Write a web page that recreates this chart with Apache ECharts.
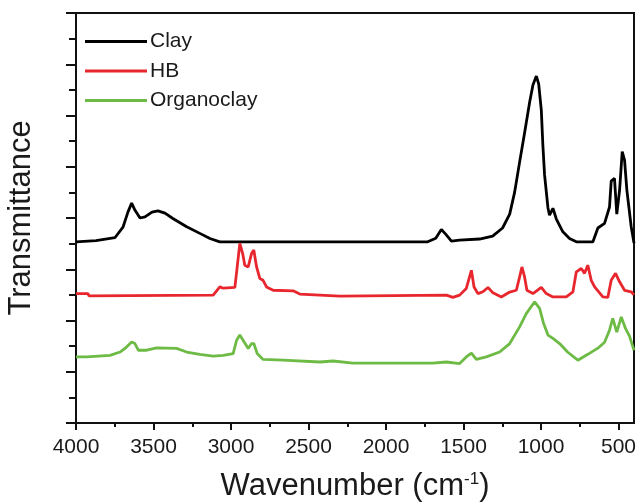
<!DOCTYPE html>
<html>
<head>
<meta charset="utf-8">
<script src="https://cdn.jsdelivr.net/npm/echarts@6/dist/echarts.min.js"></script>
<style>html,body{margin:0;padding:0;background:#fff}#c{width:637px;height:503px}</style>
</head>
<body>
<div id="c"></div>
<script>
// Wavenumber (cm^-1) and transmittance (arbitrary, offset) values
var clayWN = [4000,3871,3749,3697,3665,3641,3620,3587,3555,3510,3471,3426,3375,3286,3201,3136,3072,1731,1679,1643,1615,1578,1525,1396,1312,1248,1202,1170,1138,1106,1073,1052,1030,1015,998,988,977,955,945,923,901,859,816,772,665,633,590,558,547,526,511,493,476,461,446,418,400];
var clayT  = [7.07,7.12,7.23,7.64,8.23,8.58,8.31,8.00,8.04,8.23,8.28,8.19,7.98,7.66,7.40,7.20,7.07,7.07,7.21,7.55,7.37,7.10,7.14,7.18,7.29,7.61,8.15,9.01,10.18,11.32,12.53,13.19,13.54,13.23,12.21,10.85,9.68,8.39,8.11,8.38,7.96,7.46,7.20,7.07,7.07,7.61,7.79,8.43,9.44,9.55,8.15,9.09,10.59,10.26,9.09,7.66,7.02];

var hbWN = [4000,3923,3916,3115,3072,3050,2975,2960,2943,2925,2911,2889,2867,2853,2835,2814,2793,2771,2728,2599,2556,2298,1610,1568,1525,1482,1449,1432,1407,1375,1342,1310,1256,1202,1159,1138,1123,1106,1091,1052,998,966,923,837,794,772,740,719,698,676,654,601,569,547,519,493,461,418,400];
var hbT  = [5.05,5.05,4.96,4.99,5.31,5.26,5.29,6.09,7.01,6.62,6.16,6.09,6.62,6.75,6.09,5.64,5.57,5.31,5.18,5.16,5.03,4.95,4.99,4.90,4.99,5.25,5.96,5.31,5.05,5.12,5.29,5.08,4.92,5.11,5.18,5.70,6.09,5.70,5.18,5.05,5.29,5.05,4.92,4.92,5.12,5.90,6.03,5.84,6.16,5.57,5.31,4.92,4.90,5.57,5.84,5.51,5.18,5.12,5.00];

var orgWN = [4000,3931,3781,3716,3684,3641,3620,3598,3544,3480,3351,3286,3201,3115,3050,2986,2964,2943,2922,2889,2867,2853,2831,2793,2664,2427,2341,2214,1699,1610,1525,1482,1449,1417,1353,1267,1202,1138,1095,1041,1009,983,955,923,880,827,762,698,633,590,558,537,511,482,455,429,400];
var orgT  = [2.58,2.58,2.64,2.77,2.91,3.16,3.10,2.84,2.84,2.93,2.91,2.77,2.68,2.61,2.64,2.71,3.23,3.43,3.23,2.91,3.10,3.10,2.71,2.48,2.45,2.38,2.42,2.34,2.34,2.38,2.32,2.58,2.73,2.48,2.58,2.77,3.10,3.75,4.27,4.73,4.47,3.88,3.43,3.30,3.10,2.76,2.45,2.68,2.92,3.15,3.62,4.08,3.55,4.14,3.69,3.39,2.84];

var seriesNames = ['Clay', 'HB', 'Organoclay'];
var xTickLabels = [4000, 3500, 3000, 2500, 2000, 1500, 1000, 500];
var xMinorTicks = [3750, 3250, 2750, 2250, 1750, 1250, 750];

function pairs(xs, ys) { return xs.map(function (x, i) { return [x, ys[i]]; }); }

var chart = echarts.init(document.getElementById('c'));
var txt = '#1a1a1a';
chart.setOption({
  animation: false,
  backgroundColor: '#fff',
  grid: { left: 76, right: 3, top: 13, bottom: 80, containLabel: false, outerBoundsMode: 'none',
          show: true, borderColor: '#111', borderWidth: 2, backgroundColor: 'transparent' },
  legend: {
    orient: 'vertical', left: 85, top: 31, padding: 0, itemWidth: 62, itemHeight: 3, itemGap: 8.5, icon: 'rect',
    data: seriesNames,
    textStyle: { fontFamily: 'Liberation Sans', fontSize: 21, color: txt, padding: [0, 0, 0, -2] }
  },
  xAxis: [{
    type: 'value', inverse: true, min: 400, max: 4000,
    axisLine: { show: true, onZero: false, lineStyle: { color: '#111', width: 2 } },
    axisTick: { show: true, inside: false, length: 7, lineStyle: { color: '#111', width: 2 }, customValues: xTickLabels },
    axisLabel: { show: true, margin: 14, fontFamily: 'Liberation Sans', fontSize: 21, color: txt, customValues: xTickLabels,
                 formatter: function (v) { return String(v); } },
    splitLine: { show: false },
    name: 'Wavenumber (cm{sup|-1})',
    nameLocation: 'middle', nameGap: 48,
    nameTextStyle: {
      fontFamily: 'Liberation Sans', fontSize: 31, color: txt,
      rich: { sup: { fontFamily: 'Liberation Sans', fontSize: 17, color: txt, verticalAlign: 'top', padding: [0, 0, 14, 0] } }
    }
  }, {
    type: 'value', inverse: true, min: 400, max: 4000, position: 'bottom',
    axisLine: { show: false },
    axisTick: { show: true, length: 4, lineStyle: { color: '#111', width: 2 }, customValues: xMinorTicks },
    axisLabel: { show: false },
    splitLine: { show: false }
  }],
  yAxis: {
    type: 'value', min: 0, max: 16, interval: 2,
    axisLine: { show: true, lineStyle: { color: '#111', width: 2 } },
    axisTick: { show: true, length: 10, lineStyle: { color: '#111', width: 2 } },
    minorTick: { show: true, splitNumber: 2, length: 7, lineStyle: { color: '#111', width: 2 } },
    axisLabel: { show: false },
    splitLine: { show: false },
    name: 'Transmittance', nameLocation: 'middle', nameGap: 39,
    nameTextStyle: { fontFamily: 'Liberation Sans', fontSize: 31, color: txt }
  },
  series: [
    { name: seriesNames[0], type: 'line', symbol: 'none', data: pairs(clayWN, clayT), lineStyle: { color: '#000', width: 2.8 }, itemStyle: { color: '#000' } },
    { name: seriesNames[1], type: 'line', symbol: 'none', data: pairs(hbWN, hbT), lineStyle: { color: '#e8262d', width: 2.8 }, itemStyle: { color: '#e8262d' } },
    { name: seriesNames[2], type: 'line', symbol: 'none', data: pairs(orgWN, orgT), lineStyle: { color: '#6dbb45', width: 2.8 }, itemStyle: { color: '#6dbb45' } }
  ]
});
</script>
</body>
</html>
